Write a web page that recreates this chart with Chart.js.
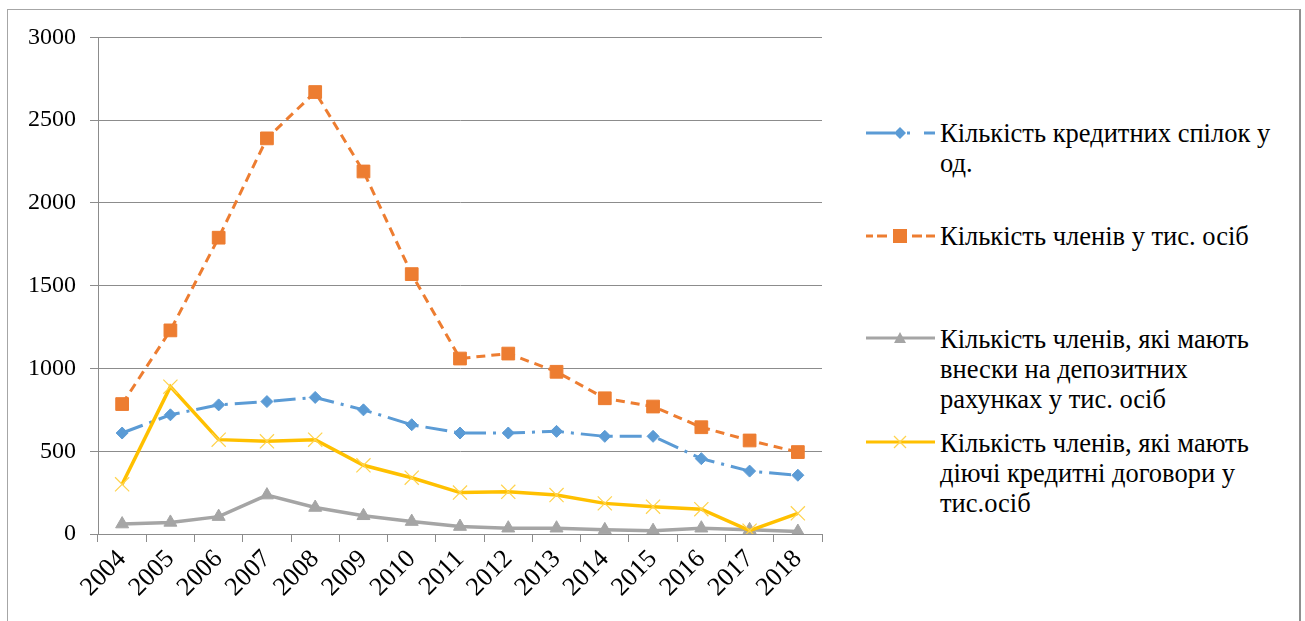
<!DOCTYPE html>
<html>
<head>
<meta charset="utf-8">
<script src="https://cdn.jsdelivr.net/npm/chart.js@4/dist/chart.umd.min.js"></script>
<style>
  html, body { margin: 0; padding: 0; background: #fff; width: 1305px; height: 621px; overflow: hidden; }
  #frame { position: absolute; left: 7px; top: 9px; width: 1294px; height: 660px; box-sizing: border-box;
           border: 1px solid #a6a6a6; border-right: 2px solid #8f8f8f; }
  #chart { position: absolute; left: 8px; top: 9px; }
  .swatch { position: absolute; left: 864px; width: 74px; height: 20px; }
  .entry { position: absolute; left: 940px; font-family: 'Liberation Serif', serif;
           font-size: 26.5px; line-height: 30px; color: #000; white-space: nowrap; }
</style>
</head>
<body>
<div id="frame"></div>
<canvas id="chart" width="830" height="605"></canvas>
<div id="legend"></div>
<script>
// Кредитні спілки України, 2004–2018
const years = ['2004', '2005', '2006', '2007', '2008', '2009', '2010', '2011',
               '2012', '2013', '2014', '2015', '2016', '2017', '2018'];

// Кількість кредитних спілок, од.
const unions   = [610, 720, 780, 800, 825, 750, 660, 610, 610, 620, 590, 590, 455, 380, 355];
// Кількість членів, тис. осіб
const members  = [785, 1230, 1790, 2390, 2670, 2190, 1570, 1060, 1090, 980, 820, 770, 645, 565, 495];
// Члени з внесками на депозитних рахунках, тис. осіб
const deposits = [60, 70, 105, 235, 160, 110, 75, 45, 35, 35, 25, 20, 35, 25, 15];
// Члени з діючими кредитними договорами, тис. осіб
const loans    = [300, 890, 570, 560, 570, 415, 340, 250, 255, 235, 185, 165, 150, 20, 125];

const yTicks = [0, 500, 1000, 1500, 2000, 2500, 3000];

const seriesNames = [
  ['Кількість кредитних спілок у', 'од.'],
  ['Кількість членів у тис. осіб'],
  ['Кількість членів, які мають', 'внески на депозитних', 'рахунках  у тис. осіб'],
  ['Кількість членів, які мають', 'діючі кредитні договори у', 'тис.осіб']
];

const BLUE = '#5B9BD5', ORANGE = '#ED7D31', GRAY = '#A5A5A5', GOLD = '#FFC000', GOLD_LIGHT = '#FFD34D';
const AXIS = '#8c8c8c';
const SERIF = "'Liberation Serif', serif";

const datasets = [
  { label: seriesNames[0].join(' '), data: unions, borderColor: BLUE, backgroundColor: BLUE,
    borderWidth: 3, borderDash: [22, 7, 3, 7], pointStyle: 'rectRot', pointRadius: 6,
    pointBackgroundColor: BLUE, pointBorderColor: BLUE, pointBorderWidth: 1, order: 4 },
  { label: seriesNames[1].join(' '), data: members, borderColor: ORANGE, backgroundColor: ORANGE,
    borderWidth: 3, borderDash: [9, 6], pointStyle: 'rect', pointRadius: 9,
    pointBackgroundColor: ORANGE, pointBorderColor: ORANGE, pointBorderWidth: 1, order: 3 },
  { label: seriesNames[2].join(' '), data: deposits, borderColor: GRAY, backgroundColor: GRAY,
    borderWidth: 3.5, pointStyle: 'triangle', pointRadius: 7.5,
    pointBackgroundColor: GRAY, pointBorderColor: GRAY, pointBorderWidth: 1, order: 2 },
  { label: seriesNames[3].join(' '), data: loans, borderColor: GOLD, backgroundColor: GOLD,
    borderWidth: 3.5, pointStyle: 'crossRot', pointRadius: 10,
    pointBackgroundColor: GOLD_LIGHT, pointBorderColor: GOLD_LIGHT, pointBorderWidth: 1.2, order: 1 }
];

new Chart(document.getElementById('chart'), {
  type: 'line',
  data: { labels: years, datasets },
  options: {
    responsive: false,
    animation: false,
    events: [],
    elements: { line: { tension: 0, fill: false } },
    layout: { padding: { top: 28, right: 16, left: 0, bottom: 0 } },
    plugins: { legend: { display: false }, tooltip: { enabled: false } },
    scales: {
      x: {
        type: 'category',
        offset: true,
        grid: { display: true, offset: true, drawOnChartArea: false, drawTicks: true,
                tickLength: 8, color: AXIS, lineWidth: 1 },
        border: { display: true, color: AXIS, width: 1 },
        ticks: { minRotation: 45, maxRotation: 45, autoSkip: false, color: '#000',
                 font: { family: SERIF, size: 26 }, padding: 2 },
        afterFit: s => { s.height = 80; }
      },
      y: {
        min: 0, max: 3000,
        afterBuildTicks: s => { s.ticks = yTicks.map(v => ({ value: v })); },
        grid: { color: AXIS, lineWidth: 1, tickLength: 8, drawTicks: true },
        border: { display: true, color: AXIS, width: 1 },
        ticks: { color: '#000', font: { family: SERIF, size: 24 }, padding: 14, callback: v => String(v) },
        afterFit: s => { s.width = 90; }
      }
    }
  }
});

// Легенда праворуч від графіка
const legendTop = [118, 221, 324, 428];
const swatchTop = [123, 226, 328, 432];
const legend = document.getElementById('legend');
const svgNS = 'http://www.w3.org/2000/svg';

function el(name, attrs) {
  const e = document.createElementNS(svgNS, name);
  for (const k in attrs) e.setAttribute(k, attrs[k]);
  return e;
}

function swatch(i) {
  const svg = el('svg', { width: 74, height: 20, viewBox: '0 0 74 20' });
  svg.setAttribute('class', 'swatch');
  svg.style.top = swatchTop[i] + 'px';
  const y = 10, cx = 36;
  if (i === 0) {
    svg.appendChild(el('line', { x1: 2, y1: y, x2: 31, y2: y, stroke: BLUE, 'stroke-width': 3 }));
    svg.appendChild(el('polygon', { points: `${cx},${y - 6} ${cx + 6},${y} ${cx},${y + 6} ${cx - 6},${y}`, fill: BLUE }));
    svg.appendChild(el('line', { x1: 43, y1: y, x2: 46, y2: y, stroke: BLUE, 'stroke-width': 3 }));
    svg.appendChild(el('line', { x1: 60, y1: y, x2: 71, y2: y, stroke: BLUE, 'stroke-width': 3 }));
  } else if (i === 1) {
    [[2, 9], [13, 23], [48, 58], [62, 71]].forEach(([a, b]) =>
      svg.appendChild(el('line', { x1: a, y1: y, x2: b, y2: y, stroke: ORANGE, 'stroke-width': 3 })));
    svg.appendChild(el('rect', { x: cx - 7, y: y - 7, width: 14, height: 14, fill: ORANGE }));
  } else if (i === 2) {
    svg.appendChild(el('line', { x1: 2, y1: y, x2: 71, y2: y, stroke: GRAY, 'stroke-width': 3 }));
    svg.appendChild(el('polygon', { points: `${cx},${y - 6} ${cx + 6},${y + 5} ${cx - 6},${y + 5}`, fill: GRAY }));
  } else {
    svg.appendChild(el('line', { x1: 2, y1: y, x2: 71, y2: y, stroke: GOLD, 'stroke-width': 3 }));
    svg.appendChild(el('line', { x1: cx - 6, y1: y - 6, x2: cx + 6, y2: y + 6, stroke: GOLD_LIGHT, 'stroke-width': 1.2 }));
    svg.appendChild(el('line', { x1: cx - 6, y1: y + 6, x2: cx + 6, y2: y - 6, stroke: GOLD_LIGHT, 'stroke-width': 1.2 }));
  }
  return svg;
}

seriesNames.forEach((lines, i) => {
  legend.appendChild(swatch(i));
  const t = document.createElement('div');
  t.className = 'entry';
  t.style.top = legendTop[i] + 'px';
  lines.forEach((line, j) => {
    if (j) t.appendChild(document.createElement('br'));
    t.appendChild(document.createTextNode(line));
  });
  legend.appendChild(t);
});
</script>
</body>
</html>
